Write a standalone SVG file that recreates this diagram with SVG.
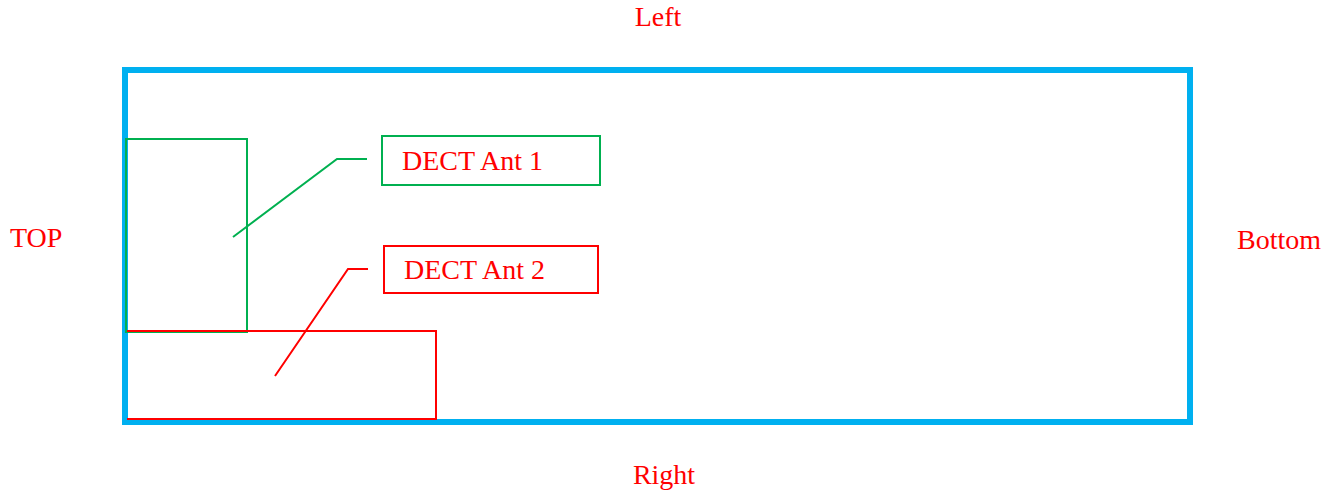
<svg xmlns="http://www.w3.org/2000/svg" width="1338" height="492" viewBox="0 0 1338 492">
  <style>
    .lbl { font-family: "Liberation Serif", "Times New Roman", serif; font-size: 28px; fill: #FF0000; }
    .green { fill: none; stroke: #00B050; stroke-width: 2; }
    .red { fill: none; stroke: #FF0000; stroke-width: 2; }
  </style>
  <rect width="1338" height="492" fill="#FFFFFF"/>

  <!-- Board outline -->
  <g id="board">
    <rect x="125" y="70" width="1065" height="352" fill="none" stroke="#00B0F0" stroke-width="6"/>
  </g>

  <!-- Side labels -->
  <g id="side-labels">
    <text class="lbl" x="658" y="26" text-anchor="middle">Left</text>
    <text class="lbl" x="664" y="484" text-anchor="middle">Right</text>
    <text class="lbl" x="10" y="247">TOP</text>
    <text class="lbl" x="1237" y="249">Bottom</text>
  </g>

  <!-- Antenna areas -->
  <g id="ant1-area">
    <rect class="green" x="126" y="139" width="121" height="193"/>
  </g>
  <g id="ant2-area">
    <path class="red" d="M127 331 H436 V419 H127"/>
  </g>

  <!-- Callout boxes -->
  <g id="ant1-label">
    <rect class="green" x="382" y="136" width="218" height="49"/>
    <text class="lbl" x="402" y="170">DECT Ant 1</text>
  </g>
  <g id="ant2-label">
    <rect class="red" x="384" y="246" width="214" height="47"/>
    <text class="lbl" x="404" y="279">DECT Ant 2</text>
  </g>

  <!-- Leader lines -->
  <g id="connectors">
    <polyline class="green" points="233,237 337,159 367,159"/>
    <polyline class="red" points="275,376 348,269 368,269"/>
  </g>
</svg>
